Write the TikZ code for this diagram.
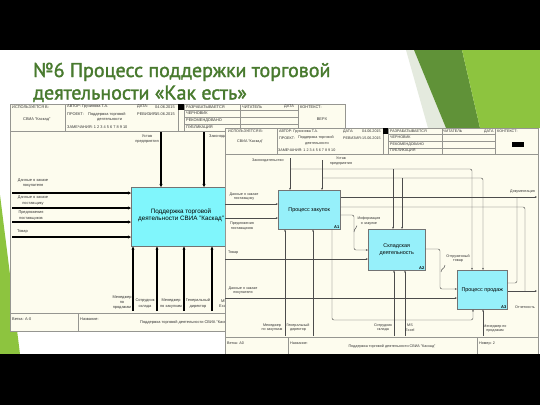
\documentclass[tikz,border=0pt]{standalone}
\usepackage{fontspec}
\setmainfont{Liberation Sans}
\newfontfamily\ttlfont[FakeBold=1.6]{PT Sans}
\usetikzlibrary{arrows.meta}
\definecolor{ttlgreen}{RGB}{72,122,46}
\definecolor{paper}{RGB}{253,252,238}
\definecolor{boxcyan}{RGB}{150,240,250}
\definecolor{backcyan}{RGB}{128,246,252}
\definecolor{frm}{RGB}{150,150,145}
\definecolor{gdark}{RGB}{96,146,56}
\definecolor{gbright}{RGB}{141,196,63}
\definecolor{gfaint}{RGB}{228,234,222}
\tikzset{
 tx/.style={inner sep=0pt, font=\fontsize{3.7}{4.4}\selectfont, text=black!80, anchor=west},
 txc/.style={inner sep=0pt, font=\fontsize{3.7}{4.6}\selectfont, text=black!80, align=center},
 btx/.style={inner sep=0pt, font=\fontsize{3.9}{4.6}\selectfont, text=black!80, anchor=west},
 btxc/.style={inner sep=0pt, font=\fontsize{3.9}{5.4}\selectfont, text=black!80, align=center},
 frame/.style={draw=frm, line width=0.5pt},
 fbox/.style={draw=black!55, line width=0.5pt, fill=boxcyan, anchor=north west, inner sep=0pt},
 bbox/.style={draw=black!55, line width=0.6pt, fill=backcyan, anchor=north west, inner sep=0pt},
 farr/.style={draw=black!70, line width=0.45pt, rounded corners=2pt, -{Stealth[length=2.2pt,width=1.8pt]}},
 fln/.style={draw=black!70, line width=0.45pt, rounded corners=2pt},
 barr/.style={draw=black, line width=1.5pt, -{Stealth[length=3pt,width=3pt]}},
 boxtx/.style={inner sep=0pt, font=\fontsize{5.4}{6.8}\selectfont, align=center},
 bboxtx/.style={inner sep=0pt, font=\fontsize{6.3}{7.4}\selectfont, align=center},
 num/.style={inner sep=0pt, font=\bfseries\fontsize{4}{4}\selectfont, anchor=south east},
 ttl/.style={anchor=base west, inner sep=0pt, font=\ttlfont\fontsize{20}{24}\selectfont, text=ttlgreen},
}
\begin{document}
\begin{tikzpicture}[x=1pt,y=-1pt]
\useasboundingbox (0,0) rectangle (540,405);
\fill[white] (0,0) rectangle (540,405);
% green decorations
\fill[gfaint] (406,50) -- (414,50) -- (446,128) -- (428,128) -- cycle;
\fill[gdark] (414,50) -- (462,50) -- (480,128) -- (446,128) -- cycle;
\fill[gbright] (462,50) -- (540,50) -- (540,128) -- (480,128) -- cycle;
\fill[gbright] (0,195) -- (20,354) -- (0,354) -- cycle;
% title
\node[ttl] (ttl1) at (33,77) {№6 Процесс поддержки торговой};
\node[ttl] (ttl2) at (33,99.5) {деятельности «Как есть»};

% ================= back diagram (A-0)
\fill[paper] (10,104) rectangle (345,331);
\draw[frame] (10,104) rectangle (345,331);
\draw[frame] (10,131) -- (345,131);
\draw[frame] (65,104) -- (65,131) (178,104) -- (178,131) (184,104) -- (184,131)
  (240,104) -- (240,131) (298,104) -- (298,131)
  (184,110) -- (298,110) (184,117) -- (298,117) (184,124) -- (298,124);
\fill[black] (178,104) rectangle (184,110);
\draw[frame] (10,313) -- (345,313) (78,313) -- (78,331);
\node[btx] (bu1) at (12,107) {ИСПОЛЬЗУЕТСЯ В:};
\node[btx] (bu2) at (23,120) {СВИА "Каскад"};
\node[btx] (ba1) at (67,107) {АВТОР: Грузинова Т.А.};
\node[btx] (ba2) at (137,107) {ДАТА:};
\node[btx] (ba3) at (155,107) {04.06.2015};
\node[btx] (ba4) at (67,114) {ПРОЕКТ:};
\node[btx] (ba5) at (88,114) {Поддержка торговой};
\node[btx] (ba6) at (137,114) {РЕВИЗИЯ:};
\node[btx] (ba7) at (155,114) {15.06.2015};
\node[btx] (ba8) at (97,120) {деятельности};
\node[btx] (ba9) at (67,127) {ЗАМЕЧАНИЯ: 1 2 3 4 5 6 7 8 9 10};
\node[btx] (bs1) at (186,107) {РАЗРАБАТЫВАЕТСЯ};
\node[btx] (bs2) at (186,113.5) {ЧЕРНОВИК};
\node[btx] (bs3) at (186,120.5) {РЕКОМЕНДОВАНО};
\node[btx] (bs4) at (186,127.5) {ПУБЛИКАЦИЯ};
\node[btx] (br1) at (242,107) {ЧИТАТЕЛЬ};
\node[btx] (br2) at (284,107) {ДАТА};
\node[btx] (bk1) at (300,107) {КОНТЕКСТ:};
\node[btxc] (bk2) at (322,119) {ВЕРХ};
% back box
\node[bbox, minimum width=102pt, minimum height=59pt] (B0) at (131,187) {};
\node[bboxtx] (B0t) at (181,215.5) {Поддержка торговой\\деятельности СВИА "Каскад"};
% back arrows
\foreach \yy/\nm in {193/bi1,208/bi2,222/bi3,237/bi4}{
  \coordinate (\nm) at (12,\yy);
  \draw[barr] (\nm) -- (\nm -| B0.west);
}
\foreach \xx/\nm in {161/bc1,204/bc2}{
  \coordinate (\nm) at (\xx,132);
  \draw[barr] (\nm) -- (\nm |- B0.north);
}
\foreach \xx/\nm in {133/bm1,157/bm2,184/bm3,212/bm4,229/bm5}{
  \coordinate (\nm) at (\xx,311);
  \draw[barr] (\nm) -- (\nm |- B0.south);
}
\node[btxc] (bl1) at (33,183) {Данные о заказе\\покупателя};
\node[btxc] (bl2) at (33,200.5) {Данные о заказе\\поставщику};
\node[btxc] (bl3) at (31,215.5) {Предложения\\поставщиков};
\node[btx] (bl4) at (17,232) {Товар};
\node[btxc] (bl5) at (147,139) {Устав\\предприятия};
\node[btx] (bl6) at (209,137) {Законодательство};
\node[btxc] (bl7) at (122,302.5) {Менеджер\\по\\продажам};
\node[btxc] (bl8) at (145,303.5) {Сотрудник\\склада};
\node[btxc] (bl9) at (171,303.5) {Менеджер\\по закупкам};
\node[btxc] (bl10) at (198,303.5) {Генеральный\\директор};
\node[btxc] (bl11) at (224,303.5) {MS\\Excel};
\node[btx] (bf1) at (12,319.5) {Ветка: A-0};
\node[btx] (bf2) at (80,319) {Название:};
\node[btx] (bf3) at (140,322) {Поддержка торговой деятельности СВИА "Каскад"};

% ================= front diagram (A0)
\fill[paper] (225,128) rectangle (538,356);
\draw[frame] (225,128) rectangle (538,356);
\draw[frame] (225,154) -- (538,154);
\draw[frame] (277,128) -- (277,154) (383,128) -- (383,154) (388,128) -- (388,154)
  (442,128) -- (442,154) (495,128) -- (495,154)
  (388,134) -- (495,134) (388,141) -- (495,141) (388,148) -- (495,148);
\fill[black] (383,128) rectangle (388,134);
\fill[black] (512,142) rectangle (524,147);
\draw[frame] (225,337) -- (538,337) (288,337) -- (288,356) (477,337) -- (477,356);
\node[tx] (fu1) at (228,131.5) {ИСПОЛЬЗУЕТСЯ В:};
\node[tx] (fu2) at (237,142) {СВИА "Каскад"};
\node[tx] (fa1) at (279,131.5) {АВТОР: Грузинова Т.А.};
\node[tx] (fa2) at (343,131.5) {ДАТА:};
\node[tx] (fa3) at (362,131.5) {04.06.2015};
\node[tx] (fa4) at (279,138) {ПРОЕКТ:};
\node[tx] (fa5) at (298,138) {Поддержка торговой};
\node[tx] (fa6) at (343,138) {РЕВИЗИЯ:};
\node[tx] (fa7) at (362,138) {15.06.2015};
\node[tx] (fa8) at (305,144) {деятельности};
\node[tx] (fa9) at (278,150.5) {ЗАМЕЧАНИЯ: 1 2 3 4 5 6 7 8 9 10};
\node[tx] (fs1) at (390,131.2) {РАЗРАБАТЫВАЕТСЯ};
\node[tx] (fs2) at (390,137.7) {ЧЕРНОВИК};
\node[tx] (fs3) at (390,144.5) {РЕКОМЕНДОВАНО};
\node[tx] (fs4) at (390,151) {ПУБЛИКАЦИЯ};
\node[tx] (fr1) at (443,131.2) {ЧИТАТЕЛЬ};
\node[tx] (fr2) at (484,131.2) {ДАТА};
\node[tx] (fk1) at (497,131.2) {КОНТЕКСТ:};
\node[tx] (ff1) at (227,343.5) {Ветка: A0};
\node[tx] (ff2) at (290,343.5) {Название:};
\node[txc] (ff3) at (392,347) {Поддержка торговой деятельности СВИА "Каскад"};
\node[tx] (ff4) at (479,343.5) {Номер: 2};
% boxes
\node[fbox, minimum width=62pt, minimum height=39pt] (A1) at (278,190) {};
\node[boxtx] (A1t) at (A1.center) {Процесс закупок};
\node[num] (A1n) at ([xshift=-1pt,yshift=1pt]A1.south east) {A1};
\node[fbox, minimum width=57pt, minimum height=41pt] (A2) at (368,229) {};
\node[boxtx] (A2t) at (A2.center) {Складская\\деятельность};
\node[num] (A2n) at ([xshift=-1pt,yshift=1pt]A2.south east) {A2};
\node[fbox, minimum width=50pt, minimum height=39pt] (A3) at (457,270) {};
\node[boxtx] (A3t) at (A3.center) {Процесс продаж};
\node[num] (A3n) at ([xshift=-1pt,yshift=1pt]A3.south east) {A3};
% controls
\coordinate (zk0) at (290,158);
\coordinate (zk1) at (290,169);
\coordinate (zk2) at (472,169);
\coordinate (zk3) at (393,169);
\draw[farr] (zk0) -- (zk0 |- A1.north);
\draw[farr] (zk1) -- (zk2) -- (zk2 |- A3.north);
\draw[farr] (zk3) -- (zk3 |- A2.north);
\coordinate (us0) at (322,160);
\coordinate (us1) at (322,178);
\coordinate (us2) at (483,178);
\coordinate (us3) at (402,178);
\draw[farr] (us0) -- (us0 |- A1.north);
\draw[farr] (us1) -- (us2) -- (us2 |- A3.north);
\draw[farr] (us3) -- (us3 |- A2.north);
% inputs
\coordinate (in1) at (225,204);
\coordinate (in2) at (225,218);
\coordinate (in3) at (225,259);
\coordinate (in4) at (225,298);
\draw[farr] (in1) -- (in1 -| A1.west);
\draw[farr] (in2) -- (in2 -| A1.west);
\draw[farr] (in3) -- (in3 -| A2.west);
\draw[farr] (in4) -- (in4 -| A3.west);
% internal links
\coordinate (i1) at (354,215);
\coordinate (i2) at (354,250);
\draw[farr] (i1 -| A1.east) -- (i1) -- (i2) -- (i2 -| A2.west);
\coordinate (g1) at (440,249);
\coordinate (g2) at (440,289);
\draw[farr] (g1 -| A2.east) -- (g1) -- (g2) -- (g2 -| A3.west);
% outputs
\coordinate (o1) at (537,197);
\coordinate (o2) at (525,207);
\coordinate (o2b) at (525,291);
\coordinate (o3) at (517,283);
\coordinate (o3b) at (517,197);
\coordinate (o4) at (537,291);
\draw[farr] (o1 -| A1.east) -- (o1);
\draw[fln] (o2 -| A1.east) -- (o2) -- (o2b);
\draw[fln] (o3 -| A3.east) -- (o3) -- (o3b);
\draw[farr] (o4 -| A3.east) -- (o4);
% mechanisms
\foreach \xx/\nm/\bx in {285/m1/A1,313/m2/A1,394/m3/A2,405/m4/A2,483/m5/A3}{
  \coordinate (\nm) at (\xx,336);
  \draw[farr] (\nm) -- (\nm |- \bx.south);
}
\coordinate (lk1) at (332,320);
\coordinate (lk2) at (473,320);
\draw[farr] (lk1 |- A1.south) -- (lk1) -- (lk2) -- (lk2 |- A3.south);
% squiggles
\draw[fln] (357,225.5) .. controls (357,229) and (354,228) .. (354,232);
\draw[fln] (445,265) .. controls (445,269) and (441,268) .. (441,272);
% labels
\node[tx] (lz) at (252,161) {Законодательство};
\node[txc] (lu) at (341,161) {Устав\\предприятия};
\node[txc] (l1) at (244,196.5) {Данные о заказе\\поставщику};
\node[txc] (l2) at (242,226) {Предложения\\поставщиков};
\node[tx] (l3) at (228,253) {Товар};
\node[txc] (l4) at (243,290.5) {Данные о заказе\\покупателя};
\node[txc] (l5) at (369,221) {Информация\\о закупке};
\node[txc] (l6) at (458,258.5) {Отгруженный\\товар};
\node[tx] (l7) at (510,192) {Документация};
\node[tx] (l8) at (515,307) {Отчетность};
\node[txc] (l9) at (272,327.5) {Менеджер\\по закупкам};
\node[txc] (l10) at (298,327.5) {Генеральный\\директор};
\node[txc] (l11) at (383,327.5) {Сотрудник\\склада};
\node[txc] (l12) at (410,327.5) {MS\\Excel};
\node[txc] (l13) at (495,328.5) {Менеджер по\\продажам};

% black bands
\fill[black] (0,0) rectangle (540,50);
\fill[black] (0,354) rectangle (540,405);
\end{tikzpicture}
\end{document}
